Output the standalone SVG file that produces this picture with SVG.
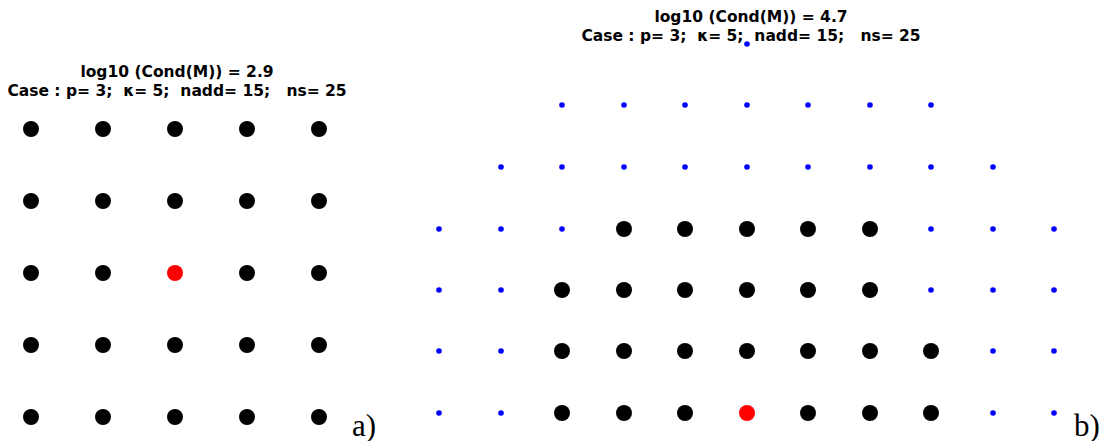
<svg xmlns="http://www.w3.org/2000/svg" width="1105" height="441" viewBox="0 0 1105 441">
<style>
.t{font-family:"DejaVu Sans",sans-serif;font-weight:bold;font-size:15.5px;fill:#000;text-anchor:middle;white-space:pre}
.lab{font-family:"Liberation Serif",serif;font-size:31px;fill:#000}
.k{fill:#000}
.r{fill:#ff0000}
.b{fill:#0000ff}
</style>
<defs>
<circle id="big" r="8"/>
<circle id="sm" r="2.8"/>
</defs>
<rect width="1105" height="441" fill="#fff"/>
<g id="panel-a">
<text class="t" x="177" y="77" xml:space="preserve">log10 (Cond(M)) = 2.9</text>
<text class="t" x="177" y="96" xml:space="preserve">Case : p= 3;  κ= 5;  nadd= 15;   ns= 25</text>
<g class="k">
<use href="#big" x="31" y="129"/><use href="#big" x="103" y="129"/><use href="#big" x="175" y="129"/><use href="#big" x="247" y="129"/><use href="#big" x="319" y="129"/>
<use href="#big" x="31" y="201"/><use href="#big" x="103" y="201"/><use href="#big" x="175" y="201"/><use href="#big" x="247" y="201"/><use href="#big" x="319" y="201"/>
<use href="#big" x="31" y="273"/><use href="#big" x="103" y="273"/><use href="#big" x="247" y="273"/><use href="#big" x="319" y="273"/>
<use href="#big" x="31" y="345"/><use href="#big" x="103" y="345"/><use href="#big" x="175" y="345"/><use href="#big" x="247" y="345"/><use href="#big" x="319" y="345"/>
<use href="#big" x="31" y="417"/><use href="#big" x="103" y="417"/><use href="#big" x="175" y="417"/><use href="#big" x="247" y="417"/><use href="#big" x="319" y="417"/>
</g>
<use class="r" href="#big" x="175" y="273"/>
<text class="lab" x="352" y="436">a)</text>
</g>
<g id="panel-b">
<text class="t" x="751" y="22" xml:space="preserve">log10 (Cond(M)) = 4.7</text>
<text class="t" x="751" y="41" xml:space="preserve">Case : p= 3;  κ= 5;  nadd= 15;   ns= 25</text>
<g class="b">
<use href="#sm" x="747" y="44"/>
<use href="#sm" x="562" y="105"/><use href="#sm" x="624" y="105"/><use href="#sm" x="685" y="105"/><use href="#sm" x="747" y="105"/><use href="#sm" x="808" y="105"/><use href="#sm" x="870" y="105"/><use href="#sm" x="931" y="105"/>
<use href="#sm" x="501" y="167"/><use href="#sm" x="562" y="167"/><use href="#sm" x="624" y="167"/><use href="#sm" x="685" y="167"/><use href="#sm" x="747" y="167"/><use href="#sm" x="808" y="167"/><use href="#sm" x="870" y="167"/><use href="#sm" x="931" y="167"/><use href="#sm" x="993" y="167"/>
<use href="#sm" x="439" y="229"/><use href="#sm" x="501" y="229"/><use href="#sm" x="562" y="229"/><use href="#sm" x="931" y="229"/><use href="#sm" x="993" y="229"/><use href="#sm" x="1054" y="229"/>
<use href="#sm" x="439" y="290"/><use href="#sm" x="501" y="290"/><use href="#sm" x="931" y="290"/><use href="#sm" x="993" y="290"/><use href="#sm" x="1054" y="290"/>
<use href="#sm" x="439" y="351"/><use href="#sm" x="501" y="351"/><use href="#sm" x="993" y="351"/><use href="#sm" x="1054" y="351"/>
<use href="#sm" x="439" y="413"/><use href="#sm" x="501" y="413"/><use href="#sm" x="993" y="413"/><use href="#sm" x="1054" y="413"/>
</g>
<g class="k">
<use href="#big" x="624" y="229"/><use href="#big" x="685" y="229"/><use href="#big" x="747" y="229"/><use href="#big" x="808" y="229"/><use href="#big" x="870" y="229"/>
<use href="#big" x="562" y="290"/><use href="#big" x="624" y="290"/><use href="#big" x="685" y="290"/><use href="#big" x="747" y="290"/><use href="#big" x="808" y="290"/><use href="#big" x="870" y="290"/>
<use href="#big" x="562" y="351"/><use href="#big" x="624" y="351"/><use href="#big" x="685" y="351"/><use href="#big" x="747" y="351"/><use href="#big" x="808" y="351"/><use href="#big" x="870" y="351"/><use href="#big" x="931" y="351"/>
<use href="#big" x="562" y="413"/><use href="#big" x="624" y="413"/><use href="#big" x="685" y="413"/><use href="#big" x="808" y="413"/><use href="#big" x="870" y="413"/><use href="#big" x="931" y="413"/>
</g>
<use class="r" href="#big" x="747" y="413"/>
<text class="lab" x="1074" y="436">b)</text>
</g>
</svg>
